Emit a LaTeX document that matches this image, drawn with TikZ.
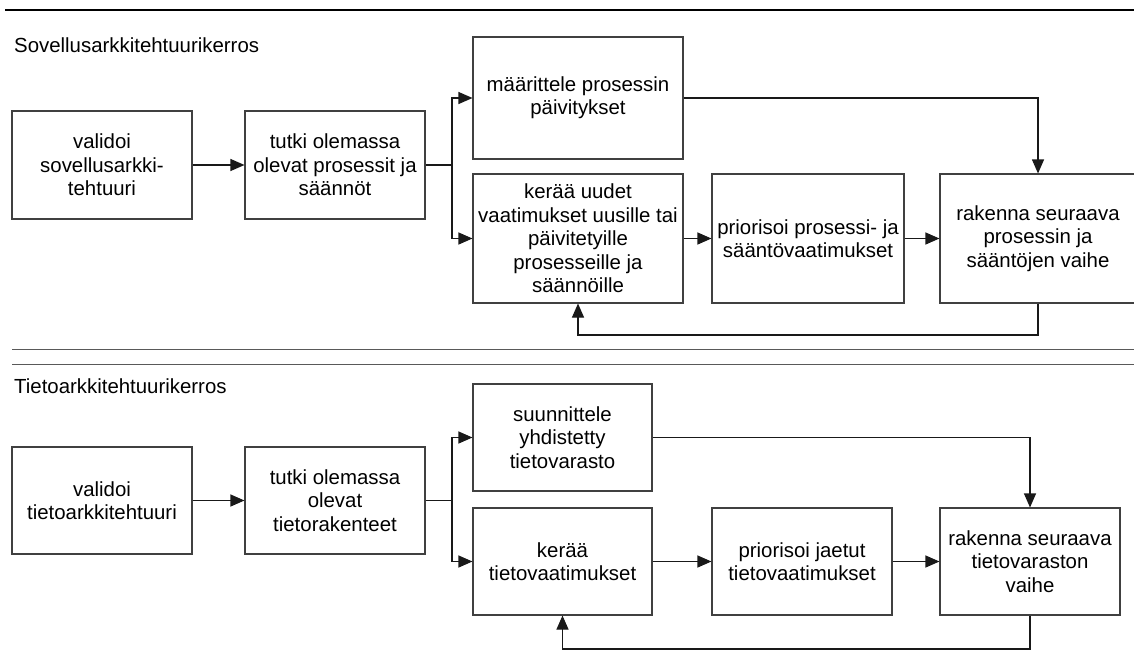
\documentclass[tikz,border=0pt]{standalone}
\usepackage{fontspec}
\setmainfont{Liberation Sans}
\usetikzlibrary{arrows.meta}
\begin{document}
\begin{tikzpicture}[x=1pt,y=-1pt,
  box/.style={draw=black!75, line width=1.1pt, rectangle, inner sep=0pt, align=center,
    font=\fontsize{20.4}{23.4}\selectfont},
  conn/.style={draw=black!90, line width=1.1pt},
  arr/.style={conn, -{Triangle[length=14pt,width=12pt]}},
  lbl/.style={anchor=base west, inner sep=0pt, font=\fontsize{20.4}{23.4}\selectfont}]
\useasboundingbox (0,0) rectangle (1134,664);
\fill[white] (0,0) rectangle (1134,664);
% rules
\coordinate (t0) at (5,10); \coordinate (t1) at (1136,10);
\draw[black, line width=2pt] (t0) -- (t1);
\coordinate (s0) at (12,349); \coordinate (s1) at (1136,349);
\coordinate (u0) at (12,364); \coordinate (u1) at (1136,364);
\draw[black!65, line width=1pt] (s0) -- (s1);
\draw[black!65, line width=1pt] (u0) -- (u1);
% titles
\node[lbl] (tA) at (14,52) {Sovellusarkkitehtuurikerros};
\node[lbl] (tB) at (14,393) {Tietoarkkitehtuurikerros};
% top layer
\node[box, minimum width=180pt, minimum height=108pt] (a1) at (102,165) {validoi\\sovellusarkki-\\tehtuuri};
\node[box, minimum width=180pt, minimum height=108pt] (a2) at (335,165) {tutki olemassa\\olevat prosessit ja\\säännöt};
\node[box, minimum width=210pt, minimum height=122pt] (b1) at (578,98) {määrittele prosessin\\päivitykset};
\node[box, minimum width=210pt, minimum height=129pt] (b2) at (578,238.5) {kerää uudet\\vaatimukset uusille tai\\päivitetyille\\prosesseille ja\\säännöille};
\node[box, minimum width=192pt, minimum height=129pt] (b3) at (808,238.5) {priorisoi prosessi- ja\\sääntövaatimukset};
\node[box, minimum width=196pt, minimum height=129pt] (b4) at (1038,238.5) {rakenna seuraava\\prosessin ja\\sääntöjen vaihe};
\draw[arr] (a1) -- (a2);
\coordinate (j1) at (452,165);
\draw[conn] (a2.east) -- (j1);
\draw[arr] (j1) |- (b1.west);
\draw[arr] (j1) |- (b2.west);
\draw[arr] (b2) -- (b3);
\draw[arr] (b3) -- (b4);
\draw[arr] (b1.east) -| (b4.north);
\coordinate (f1) at (1038,335);
\draw[arr] (b4.south) -- (f1) -| (b2.south);
% bottom layer
\node[box, minimum width=180pt, minimum height=107pt] (c1) at (102,500.5) {validoi\\tietoarkkitehtuuri};
\node[box, minimum width=180pt, minimum height=107pt] (c2) at (335,500.5) {tutki olemassa\\olevat\\tietorakenteet};
\node[box, minimum width=179pt, minimum height=107pt] (d1) at (562.5,437.5) {suunnittele\\yhdistetty\\tietovarasto};
\node[box, minimum width=179pt, minimum height=107pt] (d2) at (562.5,561.5) {kerää\\tietovaatimukset};
\node[box, minimum width=180pt, minimum height=107pt] (d3) at (802,561.5) {priorisoi jaetut\\tietovaatimukset};
\node[box, minimum width=180pt, minimum height=107pt] (d4) at (1030,561.5) {rakenna seuraava\\tietovaraston\\vaihe};
\draw[arr] (c1) -- (c2);
\coordinate (j2) at (452,500.5);
\draw[conn, line width=1.8pt] (c2.east) -- (j2);
\draw[arr] (j2) |- (d1.west);
\draw[arr] (j2) |- (d2.west);
\draw[arr] (d2) -- (d3);
\draw[arr] (d3) -- (d4);
\draw[arr] (d1.east) -| (d4.north);
\coordinate (f2) at (1030,649);
\draw[arr] (d4.south) -- (f2) -| (d2.south);
\end{tikzpicture}
\end{document}
